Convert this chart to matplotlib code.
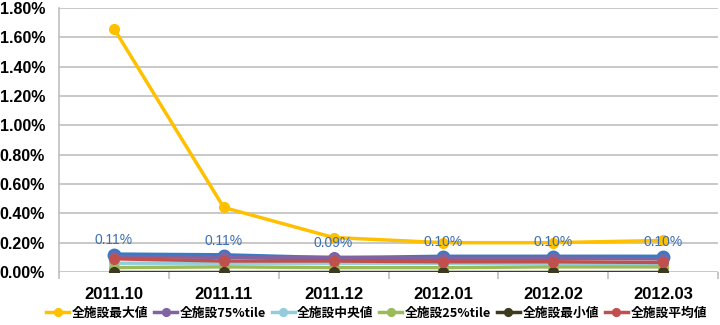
import matplotlib
matplotlib.use("Agg")
import matplotlib.pyplot as plt
from matplotlib.ticker import FuncFormatter, FixedLocator

plt.rcParams['font.family'] = ['Liberation Sans', 'Noto Sans CJK JP', 'DejaVu Sans']

categories = ["2011.10", "2011.11", "2011.12", "2012.01", "2012.02", "2012.03"]
max_vals = [1.66, 0.44, 0.235, 0.20, 0.20, 0.215]
p75_vals = [0.105, 0.10, 0.10, 0.095, 0.095, 0.09]
median_vals = [0.06, 0.06, 0.06, 0.06, 0.06, 0.055]
p25_vals = [0.03, 0.035, 0.03, 0.03, 0.035, 0.035]
min_vals = [0.0, 0.0, 0.0, 0.0, 0.0, 0.0]
mean_vals = [0.09, 0.075, 0.075, 0.07, 0.07, 0.065]
hosp_vals = [0.115, 0.11, 0.09, 0.10, 0.10, 0.10]
hosp_labels = ["0.11%", "0.11%", "0.09%", "0.10%", "0.10%", "0.10%"]

series = [
    ("全施設最大値", max_vals, "#FFC000"),
    ("全施設75%tile", p75_vals, "#8064A2"),
    ("全施設中央値", median_vals, "#93CDDD"),
    ("全施設25%tile", p25_vals, "#9BBB59"),
    ("全施設最小値", min_vals, "#3D3A1E"),
    ("全施設平均値", mean_vals, "#C0504D"),
]

fig = plt.figure(figsize=(7.2, 3.25), dpi=100)
ax = fig.add_axes([59/720, 1-272/325, (718-59)/720, (272-8)/325])

x = list(range(len(categories)))

# hospital series (not in legend)
ax.plot(x, hosp_vals, color="#3C78C3", lw=4, marker="o", ms=9, zorder=3)
handles = []
for i, (name, vals, col) in enumerate(series):
    h, = ax.plot(x, vals, color=col, lw=2.5, marker="o", ms=7, label=name,
                 zorder=4 if name != "全施設最大値" else 2)
    handles.append(h)

for xi, v, lab in zip(x, hosp_vals, hosp_labels):
    ax.annotate(lab, (xi, v), xytext=(0, 6), textcoords="offset points",
                ha="center", va="bottom", color="#3C6FB4", fontsize=10, zorder=6)

ax.set_xlim(-0.5, len(categories) - 0.5)
ax.set_ylim(0, 1.8)
ax.yaxis.set_major_locator(FixedLocator([i * 0.2 for i in range(10)]))
ax.yaxis.set_major_formatter(FuncFormatter(lambda v, p: f"{v:.2f}%"))
ax.grid(axis="y", color="#BFBFBF", lw=1.2)
ax.set_axisbelow(True)
ax.set_xticks(x)
ax.set_xticklabels(categories)
ax.set_xticks([i + 0.5 for i in range(-1, len(categories))], minor=True)
ax.tick_params(axis="x", which="major", length=0, pad=11, labelsize=12)
ax.tick_params(axis="x", which="minor", length=5, color="#BFBFBF", width=1.2)
ax.tick_params(axis="y", length=0, pad=10, labelsize=11.5)
for lab in ax.get_xticklabels() + ax.get_yticklabels():
    lab.set_fontweight("bold")
for s in ["top", "right", "bottom"]:
    ax.spines[s].set_visible(False)
ax.spines["left"].set_color("#BFBFBF")
ax.spines["left"].set_linewidth(1.2)

fig.legend(handles=handles, loc="center", bbox_to_anchor=(0.523, 1-313/325), ncol=6,
           frameon=False, handlelength=1.8, handletextpad=0.2,
           columnspacing=0.45, borderaxespad=0, markerscale=0.8,
           prop={'family': ['Noto Sans CJK JP', 'DejaVu Sans'], 'size': 9.2,
                 'weight': 'bold'})

fig.savefig("out.png", dpi=100)
